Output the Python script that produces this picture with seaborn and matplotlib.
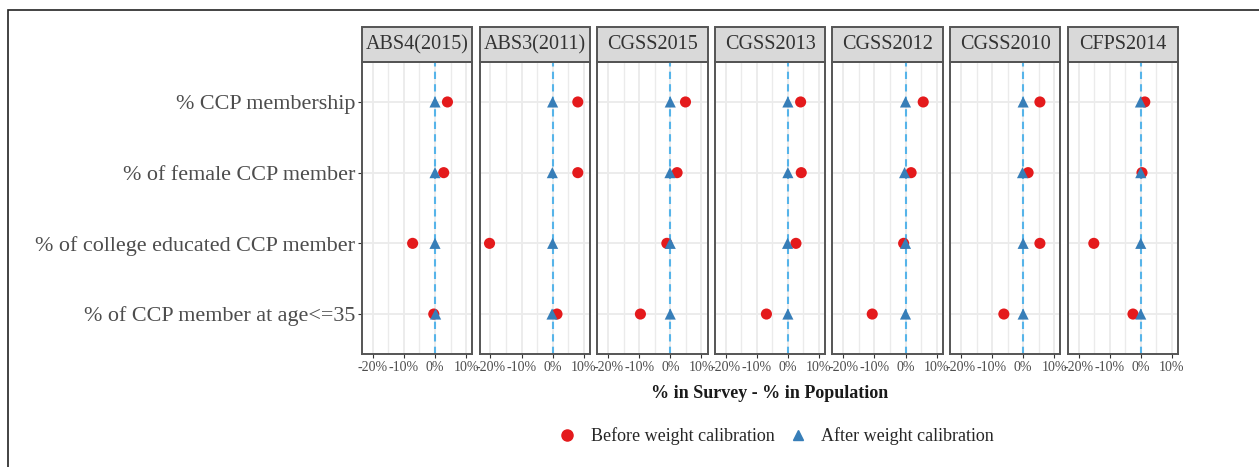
import pandas as pd
import matplotlib.pyplot as plt
import seaborn as sns
from matplotlib.patches import Rectangle
from matplotlib.lines import Line2D

# Data (% in survey - % in population)
surveys = ['ABS4(2015)', 'ABS3(2011)', 'CGSS2015', 'CGSS2013', 'CGSS2012', 'CGSS2010', 'CFPS2014']
measures = ['% CCP membership', '% of female CCP member',
            '% of college educated CCP member', '% of CCP member at age<=35']

# one row per survey, columns follow `measures`
before_vals = [
    [4.0, 2.8, -7.2, -0.4],
    [8.1, 8.1, -20.3, 1.4],
    [4.9, 2.2, -1.1, -9.6],
    [4.1, 4.3, 2.6, -6.9],
    [5.7, 1.8, -0.6, -10.7],
    [5.4, 1.6, 5.4, -6.2],
    [1.3, 0.4, -15.1, -2.5],
]
after_vals = [
    [0.0, 0.0, 0.0, 0.2],
    [0.0, -0.1, 0.0, -0.2],
    [0.0, -0.1, 0.0, 0.0],
    [0.0, 0.0, -0.1, 0.0],
    [0.0, -0.3, 0.0, 0.0],
    [0.0, -0.2, 0.0, 0.0],
    [-0.1, 0.0, 0.0, 0.0],
]
x_ticks = [-20, -10, 0, 10]
x_ticklabels = ['-20%', '-10%', '0%', '10%']
x_minor = [-15, -5, 5]

series = ['Before weight calibration', 'After weight calibration']
red, blue = '#E41A1C', '#377EB8'

rows = []
for lab, vals in zip(series, [before_vals, after_vals]):
    for s, v in zip(surveys, vals):
        for m, d in zip(measures, v):
            rows.append({'survey': s, 'measure': m, 'diff': d, 'timing': lab})
df = pd.DataFrame(rows)

sns.set_style('white')
plt.rcParams['font.family'] = ['Liberation Serif', 'DejaVu Serif']

g = sns.FacetGrid(df, col='survey', col_order=surveys, sharex=True, sharey=True,
                  despine=False)
g.map_dataframe(sns.scatterplot, x='diff', y='measure', hue='timing', style='timing',
                hue_order=series, style_order=series, palette=[red, blue],
                markers=['o', '^'], s=64, linewidth=0, legend=False, zorder=3)

fig = g.figure
fig.set_size_inches(12.59, 4.67)
fig.subplots_adjust(left=0.2875, right=0.9357, top=0.8672, bottom=0.242, wspace=0.066)

edge = '#555555'
for i, (ax, name) in enumerate(zip(g.axes.flat, surveys)):
    ax.set_title('')
    ax.set_xlabel('')
    ax.set_ylabel('')
    ax.set_xlim(-23.5, 12)
    ax.set_ylim(3.565, -0.565)
    ax.set_xticks(x_ticks)
    ax.set_xticklabels(x_ticklabels)
    ax.set_xticks(x_minor, minor=True)
    ax.grid(True, which='major', color='#ebebeb', lw=1.3, zorder=0)
    ax.grid(True, which='minor', axis='x', color='#ebebeb', lw=1.0, zorder=0)
    ax.set_axisbelow(True)
    ax.axvline(0, ls=(0, (3.5, 2.5)), color='#56B4E9', lw=1.5, zorder=2)
    for sp in ax.spines.values():
        sp.set_color(edge)
        sp.set_linewidth(1.4)
    ax.tick_params(axis='x', which='major', bottom=True, length=3, width=0.8,
                   color='#333333', labelsize=10, labelcolor='#4d4d4d', pad=2)
    ax.tick_params(axis='x', which='minor', bottom=False)
    ax.tick_params(axis='y', left=(i == 0), length=3, width=0.8, color='#333333',
                   labelsize=15.9, labelcolor='#4d4d4d', pad=2)
    # strip on top of each panel
    ax.add_patch(Rectangle((0, 1.0), 1, 0.12, transform=ax.transAxes, clip_on=False,
                           facecolor='#d9d9d9', edgecolor=edge, lw=1.4))
    ax.text(0.5, 1.06, name, transform=ax.transAxes, ha='center', va='center',
            fontsize=14.5, color='#333333')

fig.text(770 / 1259, 1 - 393 / 467, '% in Survey - % in Population', ha='center',
         va='center', fontsize=13, fontweight='bold', color='#1a1a1a')

handles = [Line2D([], [], ls='', marker='o', color=red, markersize=8),
           Line2D([], [], ls='', marker='^', color=blue, markersize=7)]
fig.legend(handles, series, loc='center', bbox_to_anchor=(776 / 1259, 0.066), ncol=2,
           frameon=False, fontsize=13, handlelength=1.0, handletextpad=0.8,
           columnspacing=0.8)

# outer frame, cut off at the right and bottom edges
fig.patches.append(Rectangle((8 / 1259, -0.2), 1.5, 1.2 - 10 / 467, transform=fig.transFigure,
                             fill=False, edgecolor='#222222', lw=1.2))

fig.savefig('out.png', dpi=100)
plt.close(fig)
